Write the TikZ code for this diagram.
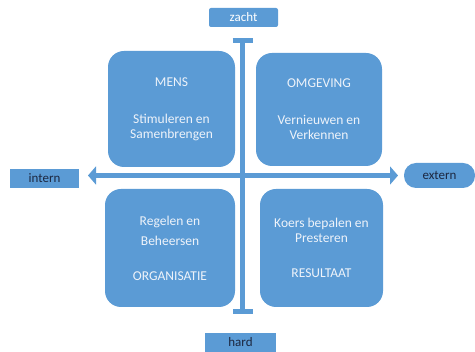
\documentclass[tikz,border=0pt]{standalone}
\usepackage{fontspec}
\setmainfont{Carlito}
\usepackage{tikz}
\usetikzlibrary{arrows.meta}
\definecolor{vlak}{HTML}{5B9BD5}
\definecolor{letter}{HTML}{EEF3FA}
\definecolor{donker}{HTML}{1C2740}
\tikzstyle{quad} = [rectangle, rounded corners=16pt, fill=vlak, text=letter, align=center, font=\fontsize{13.5}{15}\selectfont]
\tikzstyle{pole} = [rectangle, fill=vlak, text=donker, minimum height=19pt, font=\fontsize{13}{14}\selectfont, inner sep=0pt]
\tikzstyle{axis} = [draw=vlak, line width=5.5pt]

\begin{document}
\begin{tikzpicture}[x=1pt,y=-1pt]
  \useasboundingbox (0,0) rectangle (475,352);
  \node[pole, minimum width=69pt, rounded corners=2pt, text=white] (zacht) at (243.5,17.5) {zacht};
  \node[pole, minimum width=71pt] (hard) at (240.5,342.5) {hard};
  \node[pole, minimum width=69pt] (intern) at (44.5,178.5) {intern};
  \node[pole, minimum width=71pt, minimum height=25pt, rounded corners=12pt] (extern) at (439.5,175.5) {extern};

  \node[quad, minimum width=127pt, minimum height=116pt] (mens) at (171.5,109) {MENS\\[22pt]Stimuleren en\\Samenbrengen};
  \node[quad, minimum width=126pt, minimum height=113pt] (omgeving) at (319,109.5) {OMGEVING\\[22pt]Vernieuwen en\\Verkennen};
  \node[quad, minimum width=130pt, minimum height=118pt] (organisatie) at (170,248) {Regelen en\\[5pt]Beheersen\\[20pt]ORGANISATIE};
  \node[quad, minimum width=123pt, minimum height=118pt] (resultaat) at (321.5,248) {Koers bepalen en\\Presteren\\[20pt]RESULTAAT};

  \coordinate (boven) at (242.5,38);
  \coordinate (onder) at (242.5,314);
  \coordinate (links) at (88,175.5);
  \coordinate (rechts) at (398,175.5);

  \draw[axis, {Bar[width=20pt,line width=5pt]}-{Bar[width=20pt,line width=5pt]}] (boven) -- (onder);
  \draw[axis, {Triangle[width=18pt,length=8pt]}-{Triangle[width=18pt,length=8pt]}] (links) -- (rechts);
\end{tikzpicture}
\end{document}
